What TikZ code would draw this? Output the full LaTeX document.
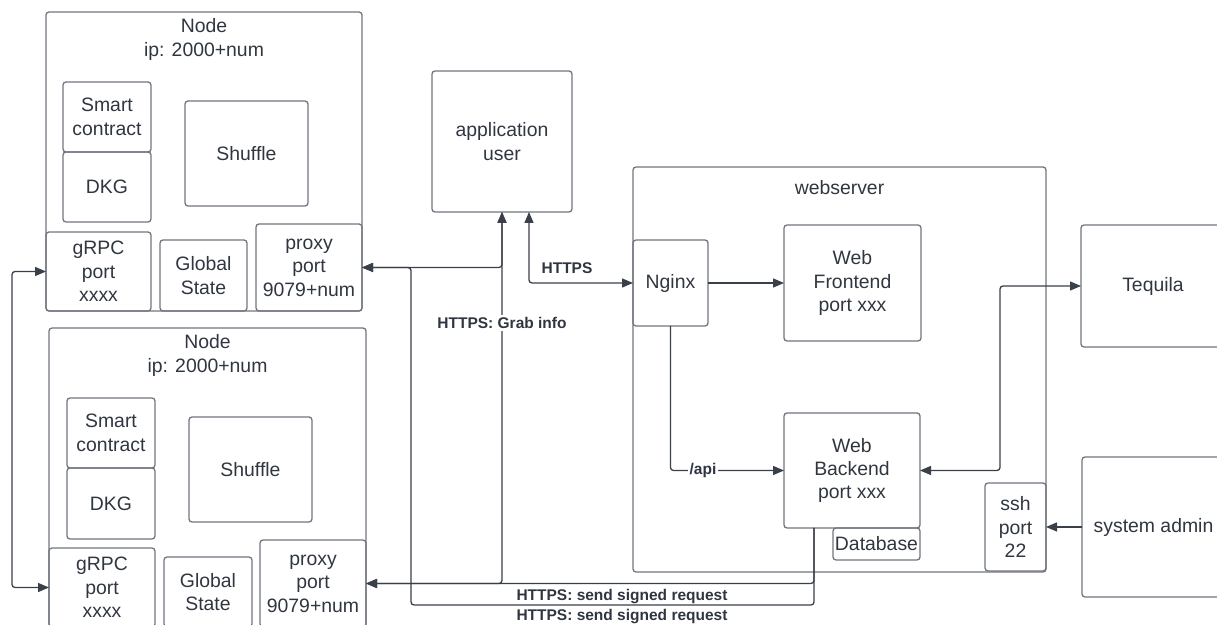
\documentclass[tikz,border=0pt]{standalone}
\usepackage{fontspec}
\setmainfont{Liberation Sans}
\usepackage{tikz}
\usetikzlibrary{positioning}
\usetikzlibrary{arrows.meta}

\definecolor{boxgray}{RGB}{112,117,126}
\definecolor{linegray}{RGB}{58,64,74}
\definecolor{txtgray}{RGB}{48,54,64}

\tikzset{
	box/.style={draw=boxgray, line width=0.65pt, rounded corners=1.5pt, inner sep=0pt, outer sep=0pt, align=center, text=txtgray, font=\fontsize{9.7}{11.7}\selectfont},
	title/.style={inner sep=0pt, align=center, text=txtgray, font=\fontsize{9.7}{11.7}\selectfont},
	conn/.style={draw=linegray, line width=0.65pt, rounded corners=1.5pt, arrows={-Triangle[length=5.5pt,width=4.5pt]}},
	both/.style={arrows={Triangle[length=5.5pt,width=4.5pt]-Triangle[length=5.5pt,width=4.5pt]}},
	lbl/.style={inner sep=1pt, fill=white, text=txtgray, font=\fontsize{7.75}{9}\selectfont\bfseries}
}

\begin{document}
\begin{tikzpicture}[x=0.5pt,y=-0.5pt]
		\useasboundingbox (0,0) rectangle (1217,625);
		
		%upper node
		\node (node1) [box, minimum width=158pt, minimum height=149.5pt] at (204,161.5) {};
		\node (t1) [title, below = 3.2pt of node1.north] {Node\\ip: 2000+num};
		\node (sc1) [box, minimum width=44pt, minimum height=35pt] at (107,117) {Smart\\contract};
		\node (dkg1) [box, minimum width=44pt, minimum height=35pt, below = 0pt of sc1] {DKG};
		\node (sh1) [box, minimum width=61.5pt, minimum height=52.5pt] at (246.5,153.5) {Shuffle};
		\node (grpc1) [box, minimum width=52.5pt, minimum height=39.5pt] at (98.5,271.5) {gRPC\\port\\xxxx};
		\node (gs1) [box, minimum width=43.5pt, minimum height=35.5pt] at (203.5,275.5) {Global\\State};
		\node (proxy1) [box, minimum width=53pt, minimum height=43.5pt] at (309,267.5) {proxy\\port\\9079+num};
		
		%lower node
		\node (node2) [box, minimum width=158.5pt, minimum height=149.5pt] at (207.5,477.5) {};
		\node (t2) [title, below = 3.2pt of node2.north] {Node\\ip: 2000+num};
		\node (sc2) [box, minimum width=44pt, minimum height=35pt] at (111,433) {Smart\\contract};
		\node (dkg2) [box, minimum width=44pt, minimum height=35.5pt, below = 0pt of sc2] {DKG};
		\node (sh2) [box, minimum width=61.5pt, minimum height=52.5pt] at (250.5,469.5) {Shuffle};
		\node (grpc2) [box, minimum width=53pt, minimum height=39.5pt] at (102,587.5) {gRPC\\port\\xxxx};
		\node (gs2) [box, minimum width=44pt, minimum height=35pt] at (208,592) {Global\\State};
		\node (proxy2) [box, minimum width=53pt, minimum height=43.5pt] at (313,583.5) {proxy\\port\\9079+num};
		
		%user
		\node (user) [box, minimum width=70pt, minimum height=70.5pt] at (502,141.5) {application\\user};
		
		%webserver
		\node (web) [box, minimum width=206.5pt, minimum height=202.5pt] at (839.5,369.5) {};
		\node (tw) [title, below = 6.5pt of web.north] {webserver};
		\node (nginx) [box, minimum width=37.5pt, minimum height=43pt] at (670.5,283) {Nginx};
		\node (front) [box, minimum width=68.5pt, minimum height=58pt] at (852.5,283) {Web\\Frontend\\port xxx};
		\node (back) [box, minimum width=68pt, minimum height=57.5pt] at (852,470.5) {Web\\Backend\\port xxx};
		\node (db) [box, minimum width=43.5pt, minimum height=16pt, below left = 0pt and 0pt of back.south east] {Database};
		\node (ssh) [box, minimum width=30.5pt, minimum height=44pt] at (1015.5,527) {ssh\\port\\22};
		
		%outside
		\node (tequila) [box, minimum width=72pt, minimum height=61pt] at (1153,286) {Tequila};
		\node (admin) [box, minimum width=71.5pt, minimum height=70pt] at (1153.5,527) {system admin};
		
		%grpc loop
		\coordinate (lp) at (12,0);
		\draw[conn, both] (grpc1.west) -- (grpc1.west -| lp) -- (grpc2.west -| lp) -- (grpc2.west);
		
		%grab info
		\coordinate (g1) at (502,0);
		\draw[conn, both] (user.south -| g1) -- (proxy1.east -| g1) -- (proxy1.east);
		\draw[conn, both] (user.south -| g1) -- (proxy2.east -| g1) -- (proxy2.east);
		\node (lgrab) [lbl] at (502,323) {HTTPS: Grab info};
		
		%https to nginx
		\coordinate (h1) at (529,0);
		\draw[conn, both] (user.south -| h1) -- (nginx.west -| h1) -- (nginx.west);
		\node (lhttps) [lbl] at (567,268) {HTTPS};
		
		%inside webserver
		\draw[conn] (nginx) -- (front);
		\draw[conn] (nginx.south) -- (nginx.south |- back.west) -- (back.west);
		\node (lapi) [lbl] at (703,470) {/api};
		\draw[conn] (admin.west) -- (ssh.east);
		
		%tequila
		\coordinate (tq) at (1000,0);
		\draw[conn, both] (back.east) -- (back.east -| tq) -- (tequila.west -| tq) -- (tequila.west);
		
		%signed requests
		\coordinate (s1) at (814,0);
		\coordinate (s2) at (411,605);
		\draw[conn] (back.south -| s1) -- (proxy2.east -| s1) -- (proxy2.east);
		\draw[conn] (back.south -| s1) -- (s1 |- s2) -- (s2) -- (s2 |- proxy1.east) -- (proxy1.east);
		\node (ls1) [lbl, fill=none] at (622,597) {HTTPS: send signed request};
		\node (ls2) [lbl, fill=none] at (622,617) {HTTPS: send signed request};
		\end{tikzpicture}
\end{document}
